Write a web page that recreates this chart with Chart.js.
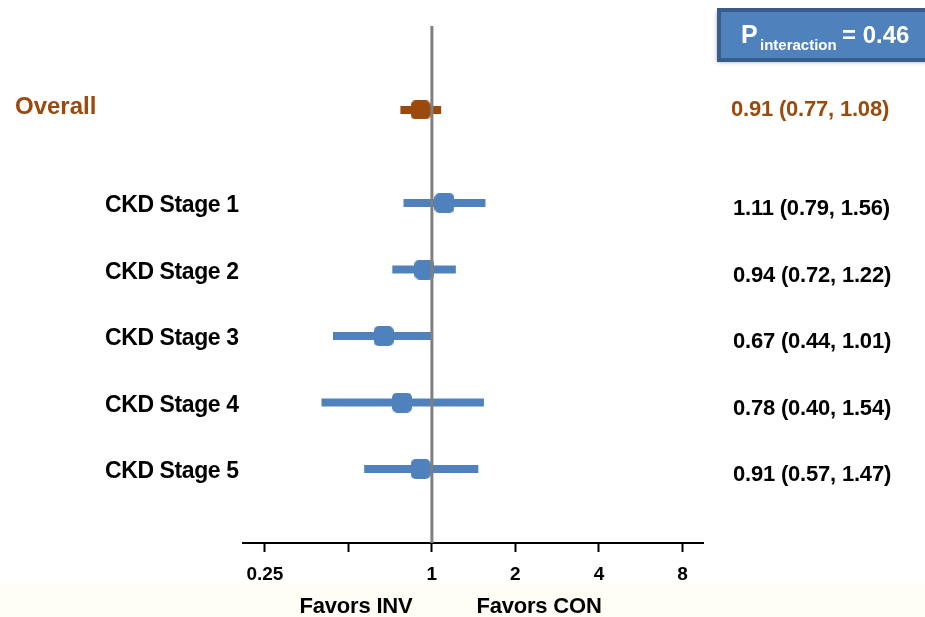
<!DOCTYPE html>
<html>
<head>
<meta charset="utf-8">
<script src="https://cdn.jsdelivr.net/npm/chart.js@4"></script>
<style>
  html, body { margin: 0; padding: 0; background: #fff; }
  #wrap { width: 925px; height: 617px; }
</style>
</head>
<body>
<div id="wrap"><canvas id="forest" width="925" height="617"></canvas></div>
<script>
// ── DATA ──
const labels  = ['Overall', 'CKD Stage 1', 'CKD Stage 2', 'CKD Stage 3', 'CKD Stage 4', 'CKD Stage 5'];
const hr      = [0.91, 1.11, 0.94, 0.67, 0.78, 0.91];
const lower   = [0.77, 0.79, 0.72, 0.44, 0.40, 0.57];
const upper   = [1.08, 1.56, 1.22, 1.01, 1.54, 1.47];
const rowPos  = [0, 1.4, 2.4, 3.4, 4.4, 5.4];   // overall row sits apart from the stages
const X_TICKS       = [0.25, 0.5, 1, 2, 4, 8];
const X_TICK_LABELS = ['0.25', '', '1', '2', '4', '8'];
const P_INTERACTION = '0.46';
const FAVORS        = ['Favors INV', 'Favors CON'];

// ── COLORS ──
const BLUE   = '#4F81BD';
const BROWN  = '#9C4A0B';
const FONT   = "'Liberation Sans', Arial, sans-serif";

const ciText = i => `${hr[i].toFixed(2)} (${lower[i].toFixed(2)}, ${upper[i].toFixed(2)})`;
const rowColor = i => i === 0 ? BROWN : BLUE;

// ── HELPER: rounded square marker as point style ──
function makeMarker(color, w = 20, h = 20, r = 5) {
  const c = document.createElement('canvas');
  c.width = w; c.height = h;
  const g = c.getContext('2d');
  g.fillStyle = color;
  g.beginPath();
  g.roundRect(0, 0, w, h, r);
  g.fill();
  return c;
}

// ── PLUGIN: background, CI bars, reference line, texts ──
const forestPlugin = {
  id: 'forest',
  beforeDraw(chart) {
    const { ctx, width, height } = chart;
    ctx.save();
    ctx.fillStyle = '#fff';
    ctx.fillRect(0, 0, width, height);
    ctx.fillStyle = '#FFFEF6';
    ctx.fillRect(0, 585, width, height - 585);
    ctx.restore();
  },
  beforeDatasetsDraw(chart) {
    const { ctx, scales: { x, y } } = chart;
    ctx.save();
    ctx.lineWidth = 8;
    ctx.lineCap = 'butt';
    labels.forEach((_, i) => {
      const py = y.getPixelForValue(rowPos[i]);
      ctx.strokeStyle = rowColor(i);
      ctx.beginPath();
      ctx.moveTo(x.getPixelForValue(lower[i]), py);
      ctx.lineTo(x.getPixelForValue(upper[i]), py);
      ctx.stroke();
    });
    ctx.restore();
  },
  afterDatasetsDraw(chart) {
    const { ctx, chartArea, scales: { x, y } } = chart;
    ctx.save();

    // line of no effect
    const x1 = x.getPixelForValue(1);
    ctx.strokeStyle = '#808080';
    ctx.lineWidth = 3;
    ctx.beginPath();
    ctx.moveTo(x1, chartArea.top);
    ctx.lineTo(x1, chartArea.bottom);
    ctx.stroke();

    // row labels & estimates
    ctx.textBaseline = 'middle';
    ctx.textAlign = 'left';
    labels.forEach((lab, i) => {
      const py = y.getPixelForValue(rowPos[i]);
      ctx.fillStyle = i === 0 ? BROWN : '#000';
      if (i === 0) {
        ctx.font = `bold 24px ${FONT}`;
        ctx.letterSpacing = '0px';
        ctx.fillText(lab, 15, py - 3);
      } else {
        ctx.font = `bold 23px ${FONT}`;
        ctx.letterSpacing = '-0.4px';
        ctx.fillText(lab, 105, py + 3);
      }
      ctx.font = `bold 22px ${FONT}`;
      ctx.letterSpacing = '-0.2px';
      ctx.fillText(ciText(i), i === 0 ? 731 : 733, i === 0 ? py : py + 6);
    });

    // favors labels
    ctx.fillStyle = '#000';
    ctx.font = `bold 22px ${FONT}`;
    ctx.letterSpacing = '-0.2px';
    ctx.textAlign = 'center';
    ctx.fillText(FAVORS[0], 356, 607);
    ctx.fillText(FAVORS[1], 539, 607);
    ctx.restore();
  },
  afterDraw(chart) {
    const { ctx } = chart;
    ctx.save();
    // P interaction box
    ctx.shadowColor = 'rgba(0,0,0,0.35)';
    ctx.shadowBlur = 4;
    ctx.shadowOffsetX = -2;
    ctx.shadowOffsetY = 2;
    ctx.fillStyle = BLUE;
    ctx.fillRect(719, 10, 230, 50);
    ctx.shadowColor = 'transparent';
    ctx.strokeStyle = '#385D8A';
    ctx.lineWidth = 4;
    ctx.strokeRect(719, 10, 230, 50);

    ctx.fillStyle = '#fff';
    ctx.textAlign = 'left';
    ctx.textBaseline = 'alphabetic';
    ctx.font = `bold 25px ${FONT}`;
    ctx.fillText('P', 741, 43);
    ctx.font = `bold 15px ${FONT}`;
    ctx.fillText('interaction', 760, 50);
    ctx.font = `bold 24px ${FONT}`;
    ctx.fillText('= ' + P_INTERACTION, 842, 43);
    ctx.restore();
  }
};

// ── CHART ──
const ctx = document.getElementById('forest').getContext('2d');

new Chart(ctx, {
  type: 'scatter',
  data: {
    datasets: [
      {
        label: 'Overall',
        data: [{ x: hr[0], y: rowPos[0] }],
        pointStyle: makeMarker(BROWN, 20, 19, 5),
      },
      {
        label: 'CKD stages',
        data: hr.slice(1).map((v, i) => ({ x: v, y: rowPos[i + 1] })),
        pointStyle: makeMarker(BLUE, 20, 20, 5),
      },
    ],
  },
  options: {
    responsive: false,
    animation: false,
    layout: { padding: { left: 243, right: 222, top: 26, bottom: 0 } },
    plugins: {
      legend: { display: false },
      tooltip: { enabled: false },
    },
    scales: {
      x: {
        type: 'logarithmic',
        min: 0.2085,
        max: 9.49,
        afterBuildTicks: s => { s.ticks = X_TICKS.map(v => ({ value: v })); },
        afterFit: s => { s.height = 74; },
        border: { display: true, color: '#000', width: 2 },
        grid: {
          drawOnChartArea: false,
          drawTicks: true,
          tickLength: 9,
          tickWidth: 2,
          tickColor: '#000',
        },
        ticks: {
          autoSkip: false,
          maxRotation: 0,
          padding: 11,
          color: '#000',
          font: { family: FONT, size: 19, weight: 'bold' },
          callback: (v, i) => X_TICK_LABELS[i],
        },
      },
      y: {
        type: 'linear',
        display: false,
        reverse: true,
        min: -1.263,
        max: 6.511,
      },
    },
  },
  plugins: [forestPlugin],
});
</script>
</body>
</html>
